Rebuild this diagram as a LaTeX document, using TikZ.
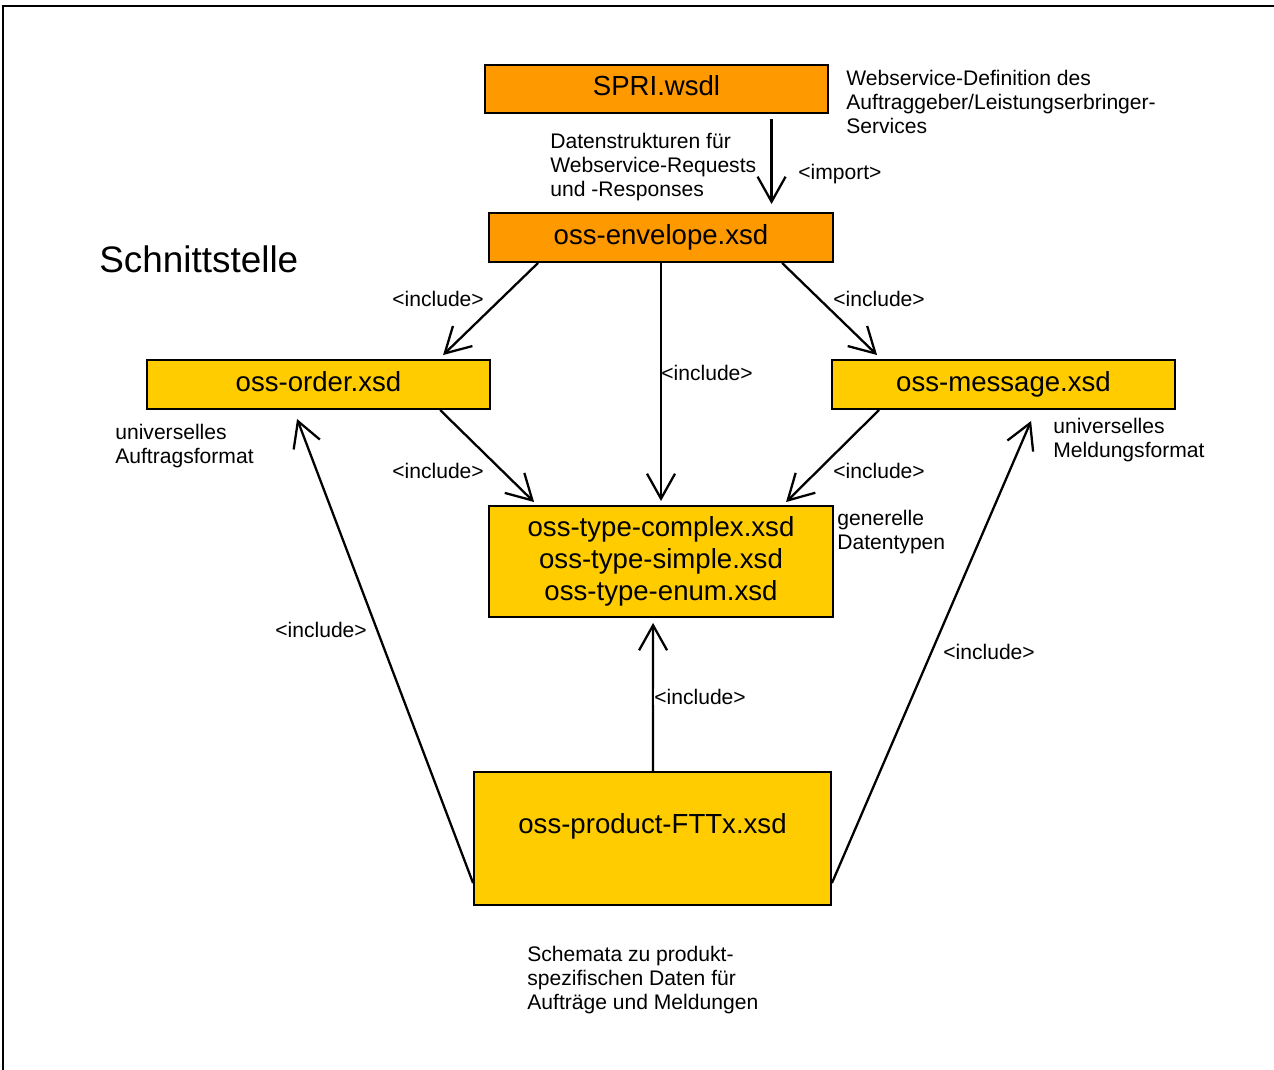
\documentclass[tikz,border=0pt]{standalone}
\usepackage{fontspec}
\setmainfont{Liberation Sans}
\usetikzlibrary{arrows.meta,calc}
\definecolor{boxorange}{RGB}{255,153,0}
\definecolor{boxyellow}{RGB}{255,204,0}
\tikzset{
  filebox/.style={draw=black, line width=1.1pt, inner sep=0pt, font=\fontsize{15.7}{18.4}\selectfont, align=center},
  oneline/.style={text height=11.3pt, text depth=3.5pt},
  obox/.style={filebox, oneline, fill=boxorange},
  ybox/.style={filebox, fill=boxyellow},
  small/.style={inner sep=0pt, font=\fontsize{12}{13.6}\selectfont, align=left, anchor=west},
  conn/.style={line width=1.3pt, -{Straight Barb[length=0.5cm,width=0.56cm,line width=1.3pt]}},
}
\begin{document}
\begin{tikzpicture}[x=0.02cm,y=-0.02cm]
\useasboundingbox (0,0) rectangle (1274,1070);
% frame (right and bottom edges lie outside the picture)
\draw[line width=1.1pt] (3,1075) -- (3,6) -- (1280,6);

% file boxes
\node[obox, minimum width=6.86cm, minimum height=0.96cm] (spri) at (656.5,89) {SPRI.wsdl};
\node[obox, minimum width=6.88cm, minimum height=0.98cm] (env) at (661,237.5) {oss-envelope.xsd};
\node[ybox, oneline, minimum width=6.86cm, minimum height=0.98cm] (ord) at (318.5,384.5) {oss-order.xsd};
\node[ybox, oneline, minimum width=6.86cm, minimum height=0.98cm] (msg) at (1003.5,384.5) {oss-message.xsd};
\node[ybox, minimum width=6.88cm, minimum height=2.22cm] (typ) at (661,561.5) {oss-type-complex.xsd\\oss-type-simple.xsd\\oss-type-enum.xsd};
\node[ybox, minimum width=7.14cm, minimum height=2.66cm] (prod) at (652.5,838.5) {};
\node[inner sep=0pt, font=\fontsize{15.7}{18.4}\selectfont] (prodtext) at ($(prod.center)+(0,-12)$) {oss-product-FTTx.xsd};

% connectors
\draw[conn] ($(spri.south west)+(287.5,5)$) -- ($(env.north west)+(283.5,-8)$);
\draw[conn] ($(env.south west)+(50,0)$) -- ($(ord.north west)+(297,-4)$);
\draw[conn] (env.south) -- ($(typ.north)+(0,-4)$);
\draw[conn] ($(env.south west)+(294,0)$) -- ($(msg.north west)+(46,-4)$);
\draw[conn] ($(ord.south west)+(294,0)$) -- ($(typ.north west)+(46,-3)$);
\draw[conn] ($(msg.south west)+(48,0)$) -- ($(typ.north west)+(298,-3)$);
\draw[conn] ($(prod.north west)+(180,0)$) -- ($(typ.south west)+(165,5)$);
\draw[conn] ($(prod.north west)+(0,112)$) -- ($(ord.south west)+(151,9)$);
\draw[conn] ($(prod.north east)+(0,112)$) -- ($(msg.south west)+(200,11)$);

% connector labels
\node[small] (limp) at (798,174) {<import>};
\node[small] (l1) at (392,299) {<include>};
\node[small] (l2) at (833,299) {<include>};
\node[small] (l3) at (661,373) {<include>};
\node[small] (l4) at (392,471) {<include>};
\node[small] (l5) at (833,471) {<include>};
\node[small] (l6) at (275,630) {<include>};
\node[small] (l7) at (943,652) {<include>};
\node[small, fill=white] (l8) at (654,697) {<include>};

% annotations
\node[small] (t1) at (846,102) {Webservice-Definition des\\Auftraggeber/Leistungserbringer-\\Services};
\node[small] (t2) at (550,167) {Datenstrukturen für\\Webservice-Requests\\und -Responses};
\node[inner sep=0pt, anchor=west, font=\fontsize{21}{25}\selectfont] (title) at (99,259) {Schnittstelle};
\node[small] (t3) at (115,446) {universelles\\Auftragsformat};
\node[small] (t4) at (1053,440) {universelles\\Meldungsformat};
\node[small] (t5) at (837,532) {generelle\\Datentypen};
\node[small] (t6) at (527,980) {Schemata zu produkt-\\spezifischen Daten für\\Aufträge und Meldungen};
\end{tikzpicture}
\end{document}
